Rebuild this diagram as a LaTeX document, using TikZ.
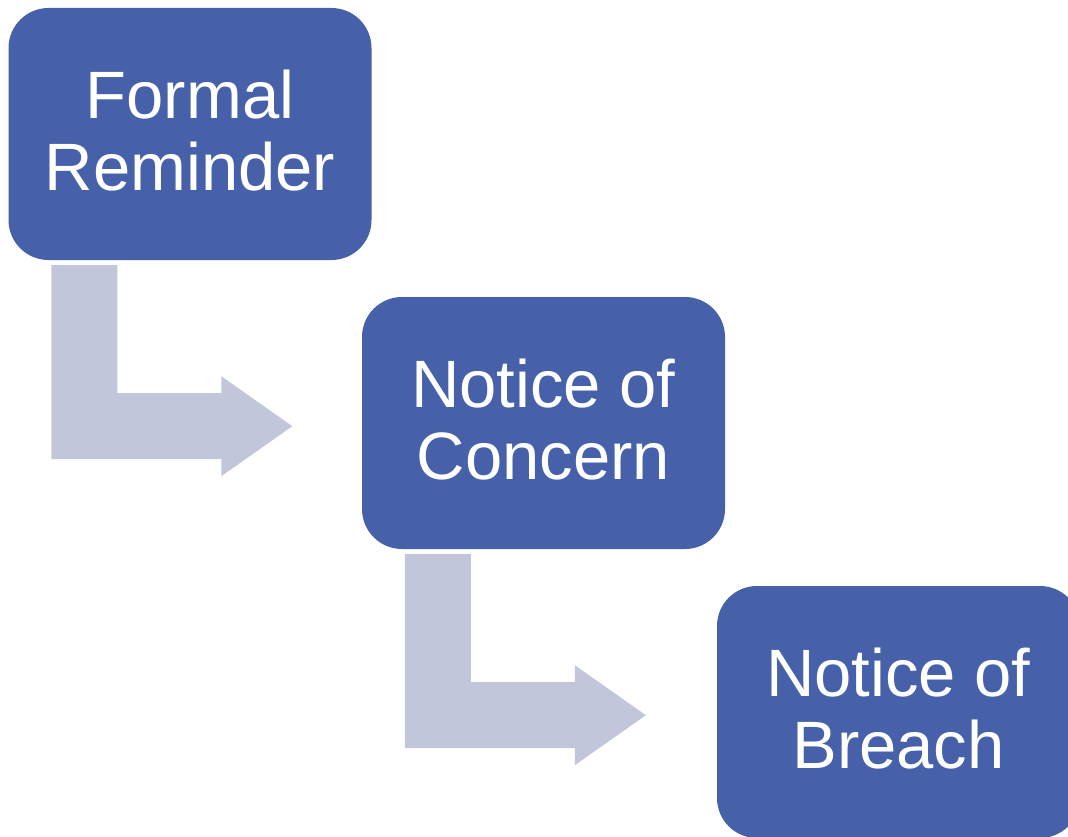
\documentclass[tikz,border=0pt]{standalone}
\usepackage{fontspec}
\setmainfont{Liberation Sans}
\usetikzlibrary{calc}
\definecolor{stepblue}{RGB}{70,96,169}
\definecolor{arrowgrey}{RGB}{193,198,219}
\tikzset{
  stepbox/.style={fill=stepblue, rounded corners=40pt, minimum width=363pt, minimum height=252pt,
    inner sep=0pt, align=center, text=white, text depth=8pt, font=\fontsize{67}{72}\selectfont},
}
\def\bentarrow(#1){\fill[arrowgrey] ($(#1.south west)+(43,5)$) -- ++(66,0) -- ++(0,128) -- ++(104,0)
  -- ++(0,-17) -- ++(71,50) -- ++(-71,50) -- ++(0,-17) -- ++(-170,0) -- cycle;}

\begin{document}
\begin{tikzpicture}[x=1pt, y=-1pt]
			\clip (0, 0) rectangle (1068, 837);
			
			\node[stepbox] (reminder) at (190, 134) {Formal\\Reminder};
			\node[stepbox] (concern) at (543.5, 423) {Notice of\\Concern};
			\node[stepbox] (breach) at (898.5, 712) {Notice of\\Breach};
			
			\bentarrow(reminder)
			\bentarrow(concern)
		\end{tikzpicture}
\end{document}
